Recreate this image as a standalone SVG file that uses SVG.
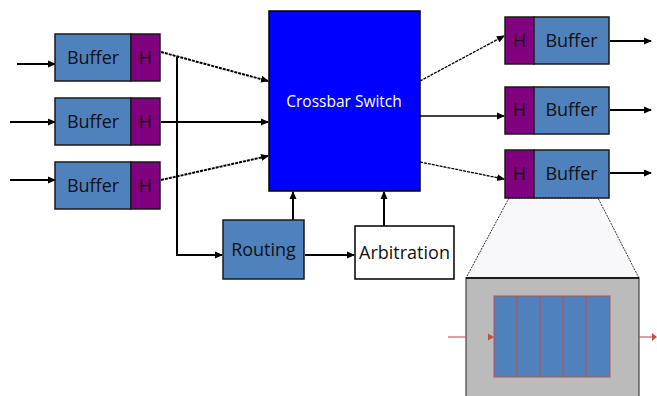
<svg xmlns="http://www.w3.org/2000/svg" width="657" height="396" viewBox="0 0 657 396">
<style>
.buf{fill:#4F81BD;stroke:#1a1a1a;stroke-width:1.5}
.hd{fill:#800080;stroke:#1a1a1a;stroke-width:1.5}
.t{font-family:"Open Sans","Noto Sans",sans-serif;font-size:18px;fill:#111;text-anchor:middle}
.w{fill:#fff;font-size:15.5px}
.c{stroke:#000;stroke-width:2;fill:none}
.thin{stroke:#000;stroke-width:1.3;fill:none}
.dash{stroke-dasharray:3 1}
.red{stroke:#C0504D;stroke-width:1.1;fill:none}
</style>
<defs>
<marker id="a" viewBox="0 0 8 8" refX="7" refY="4" markerWidth="8" markerHeight="8" markerUnits="userSpaceOnUse" orient="auto">
<path d="M0,0.5 L8,4 L0,7.5 Z" fill="#000"/>
</marker>
</defs>
<rect width="657" height="396" fill="#fff"/>

<g id="zoom">
<polygon points="509,198 598,198 639,278 466,278" fill="#F8F8FA" stroke="#333" stroke-width="1" stroke-dasharray="2 1"/>
<rect x="466" y="278" width="173" height="130" fill="#BBBBBB" stroke="#444" stroke-width="1.2"/>
<line x1="466" y1="278" x2="639" y2="278" stroke="#000" stroke-width="1.5"/>
<rect x="494" y="296" width="116" height="81" fill="#4F81BD" stroke="#C0504D" stroke-width="1"/>
<path class="red" d="M517,296V377M540,296V377M563,296V377M586,296V377"/>
<line class="red" x1="448" y1="337" x2="466" y2="337"/>
<polygon points="488,333.5 494,337 488,340.5" fill="#C0504D"/>
<line class="red" x1="639" y1="337" x2="654" y2="337"/>
<polygon points="652,333 657,337 652,341" fill="#C0504D"/>
</g>

<g id="connectors">
<line class="c" x1="17" y1="64" x2="55" y2="64" marker-end="url(#a)"/>
<line class="c" x1="10" y1="122" x2="55" y2="122" marker-end="url(#a)"/>
<line class="c" x1="10" y1="180" x2="55" y2="180" marker-end="url(#a)"/>
<line class="c dash" x1="161" y1="52" x2="268" y2="81" marker-end="url(#a)"/>
<line class="c" x1="161" y1="122" x2="268" y2="122" marker-end="url(#a)"/>
<line class="c dash" x1="161" y1="180" x2="268" y2="156" marker-end="url(#a)"/>
<polyline class="c" points="177,57 177,255 222,255" marker-end="url(#a)"/>
<line class="c" x1="293" y1="220" x2="293" y2="192" marker-end="url(#a)"/>
<line class="c" x1="384" y1="226" x2="384" y2="192" marker-end="url(#a)"/>
<line class="c" x1="305" y1="255" x2="354" y2="255" marker-end="url(#a)"/>
<line class="thin dash" x1="420" y1="81" x2="504" y2="36" marker-end="url(#a)"/>
<line class="thin" x1="420" y1="116" x2="504" y2="116" marker-end="url(#a)"/>
<line class="thin dash" x1="420" y1="162" x2="504" y2="179" marker-end="url(#a)"/>
<line class="c" x1="610" y1="41" x2="651" y2="41" marker-end="url(#a)"/>
<line class="c" x1="610" y1="110" x2="651" y2="110" marker-end="url(#a)"/>
<line class="c" x1="610" y1="173" x2="651" y2="173" marker-end="url(#a)"/>
</g>

<g id="inbuf1"><rect class="buf" x="55" y="34" width="76" height="47"/><rect class="hd" x="131" y="34" width="29" height="47"/><text class="t" x="93" y="64">Buffer</text><text class="t" x="145.5" y="64">H</text></g>
<g id="inbuf2"><rect class="buf" x="55" y="98" width="76" height="47"/><rect class="hd" x="131" y="98" width="29" height="47"/><text class="t" x="93" y="128">Buffer</text><text class="t" x="145.5" y="128">H</text></g>
<g id="inbuf3"><rect class="buf" x="55" y="162" width="76" height="47"/><rect class="hd" x="131" y="162" width="29" height="47"/><text class="t" x="93" y="192">Buffer</text><text class="t" x="145.5" y="192">H</text></g>

<g id="crossbar"><rect x="269" y="11" width="151" height="180" fill="#0000FF" stroke="#000" stroke-width="1.5"/><text class="t w" x="344" y="107">Crossbar Switch</text></g>

<g id="routing"><rect class="buf" x="223" y="220" width="81" height="59"/><text class="t" x="263.5" y="256">Routing</text></g>
<g id="arbitration"><rect x="355" y="226" width="99" height="53" fill="#fff" stroke="#000" stroke-width="1.5"/><text class="t" x="404.5" y="259">Arbitration</text></g>

<g id="outbuf1"><rect class="hd" x="505" y="17" width="29" height="47"/><rect class="buf" x="534" y="17" width="75" height="47"/><text class="t" x="519.5" y="47">H</text><text class="t" x="571.5" y="47">Buffer</text></g>
<g id="outbuf2"><rect class="hd" x="505" y="87" width="29" height="47"/><rect class="buf" x="534" y="87" width="75" height="47"/><text class="t" x="519.5" y="116">H</text><text class="t" x="571.5" y="116">Buffer</text></g>
<g id="outbuf3"><rect class="hd" x="505" y="150" width="29" height="48"/><rect class="buf" x="534" y="150" width="75" height="48"/><text class="t" x="519.5" y="180">H</text><text class="t" x="571.5" y="180">Buffer</text></g>
</svg>
